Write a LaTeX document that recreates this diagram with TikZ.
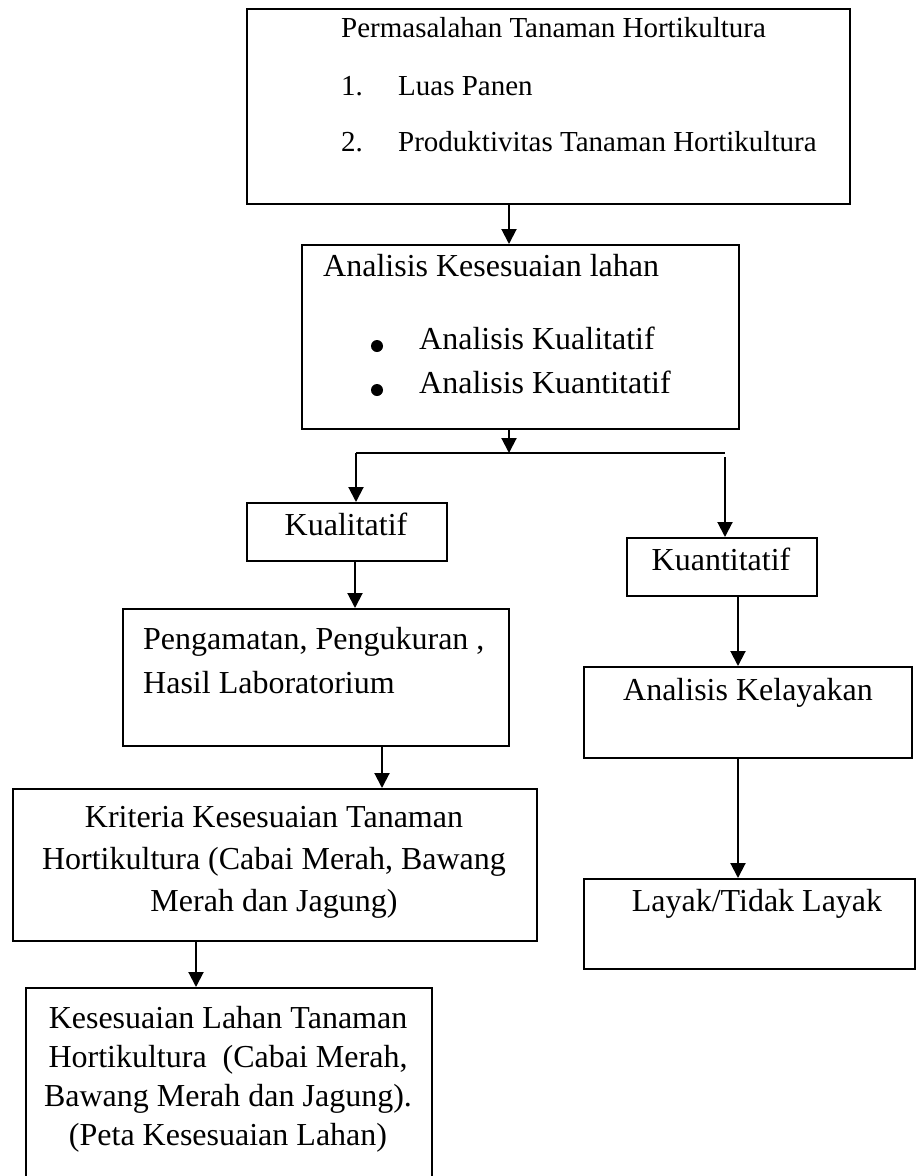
\documentclass[tikz,border=0pt]{standalone}
\usepackage{fontspec}
\setmainfont{Liberation Serif}
\usetikzlibrary{arrows.meta}

\begin{document}
\begin{tikzpicture}[x=1pt, y=-1pt, >={Triangle[length=15pt,width=15pt]},
	kotak/.style={draw, line width=2pt, anchor=north west, inner sep=0pt},
	teks/.style={inner sep=0pt, font=\fontsize{32}{42}\selectfont},
	kecil/.style={inner sep=0pt, anchor=west, text height=0.68em, text depth=0pt, font=\fontsize{29}{36}\selectfont},
	titik/.style={circle, fill, inner sep=0pt, minimum size=12pt},
	panah/.style={->, line width=2pt}]
	\useasboundingbox (0,0) rectangle (916,1176);
	
	% Kotak-kotak bagan
	\node[kotak, minimum width=603pt, minimum height=195pt] (masalah) at (246,8) {};
	\node[kotak, minimum width=437pt, minimum height=184pt] (analisis) at (301,244) {};
	\node[kotak, minimum width=200pt, minimum height=58pt] (kual) at (246,502) {};
	\node[kotak, minimum width=386pt, minimum height=137pt] (amat) at (122,608) {};
	\node[kotak, minimum width=524pt, minimum height=152pt] (kriteria) at (12,788) {};
	\node[kotak, minimum width=406pt, minimum height=200pt] (sesuai) at (25,987) {};
	\node[kotak, minimum width=190pt, minimum height=58pt] (kuan) at (626,537) {};
	\node[kotak, minimum width=328pt, minimum height=91pt] (layak) at (583,666) {};
	\node[kotak, minimum width=331pt, minimum height=90pt] (hasil) at (583,878) {};
	
	% Teks kotak paling atas
	\node[kecil] (judul) at (341,34) {Permasalahan Tanaman Hortikultura};
	\node[kecil] (no1) at (341,92) {1.};
	\node[kecil] (luas) at (398,92) {Luas Panen};
	\node[kecil] (no2) at (341,148) {2.};
	\node[kecil] (prod) at (398,148) {Produktivitas Tanaman Hortikultura};
	
	% Teks analisis kesesuaian
	\node[teks, anchor=west, text height=0.68em, text depth=0pt] (judul2) at (323,273) {Analisis Kesesuaian lahan};
	\node[titik] (b1) at (377,346) {};
	\node[teks, anchor=west, text height=0.68em, text depth=0pt] (kl) at (419,346) {Analisis Kualitatif};
	\node[titik] (b2) at (377,390) {};
	\node[teks, anchor=west, text height=0.68em, text depth=0pt] (kn) at (419,390) {Analisis Kuantitatif};
	
	% Teks kotak lainnya
	\node[teks, text height=0.68em, text depth=0pt] (tkual) at (346,532) {Kualitatif};
	\node[teks, anchor=north west, align=left, font=\fontsize{32}{44}\selectfont] (tamat) at (143,627) {Pengamatan, Pengukuran ,\\ Hasil Laboratorium};
	\node[teks, anchor=north, align=center] (tkrit) at (274,806) {Kriteria Kesesuaian Tanaman\\ Hortikultura (Cabai Merah, Bawang\\ Merah dan Jagung)};
	\node[teks, anchor=north, align=center, font=\fontsize{32}{39}\selectfont] (tsesuai) at (228,1006) {Kesesuaian Lahan Tanaman\\ Hortikultura~ (Cabai Merah,\\ Bawang Merah dan Jagung).\\ (Peta Kesesuaian Lahan)};
	\node[teks, text height=0.68em, text depth=0pt] (tkuan) at (721,567) {Kuantitatif};
	\node[teks, text height=0.68em, text depth=0pt] (tlayak) at (748,697) {Analisis Kelayakan};
	\node[teks, text height=0.68em, text depth=0pt] (thasil) at (757,908) {Layak/Tidak Layak};
	
	% Titik bantu garis cabang
	\coordinate (xa) at (509,0);
	\coordinate (jl) at (356,453);
	\coordinate (jr) at (725,453);
	\coordinate (jr2) at (725,457);
	\coordinate (x1) at (355,0);
	\coordinate (x2) at (382,0);
	\coordinate (x3) at (196,0);
	\coordinate (x4) at (738,0);
	
	% Panah-panah
	\draw[panah] (masalah.south -| xa) -- (analisis.north -| xa);
	\draw[panah] (analisis.south -| xa) -- (jl -| xa);
	\draw[line width=2pt] (jl) -- (jr);
	\draw[panah] (jl) -- (kual.north -| jl);
	\draw[panah] (jr2) -- (kuan.north -| jr2);
	\draw[panah] (kual.south -| x1) -- (amat.north -| x1);
	\draw[panah] (amat.south -| x2) -- (kriteria.north -| x2);
	\draw[panah] (kriteria.south -| x3) -- (sesuai.north -| x3);
	\draw[panah] (kuan.south -| x4) -- (layak.north -| x4);
	\draw[panah] (layak.south -| x4) -- (hasil.north -| x4);
\end{tikzpicture}
\end{document}
